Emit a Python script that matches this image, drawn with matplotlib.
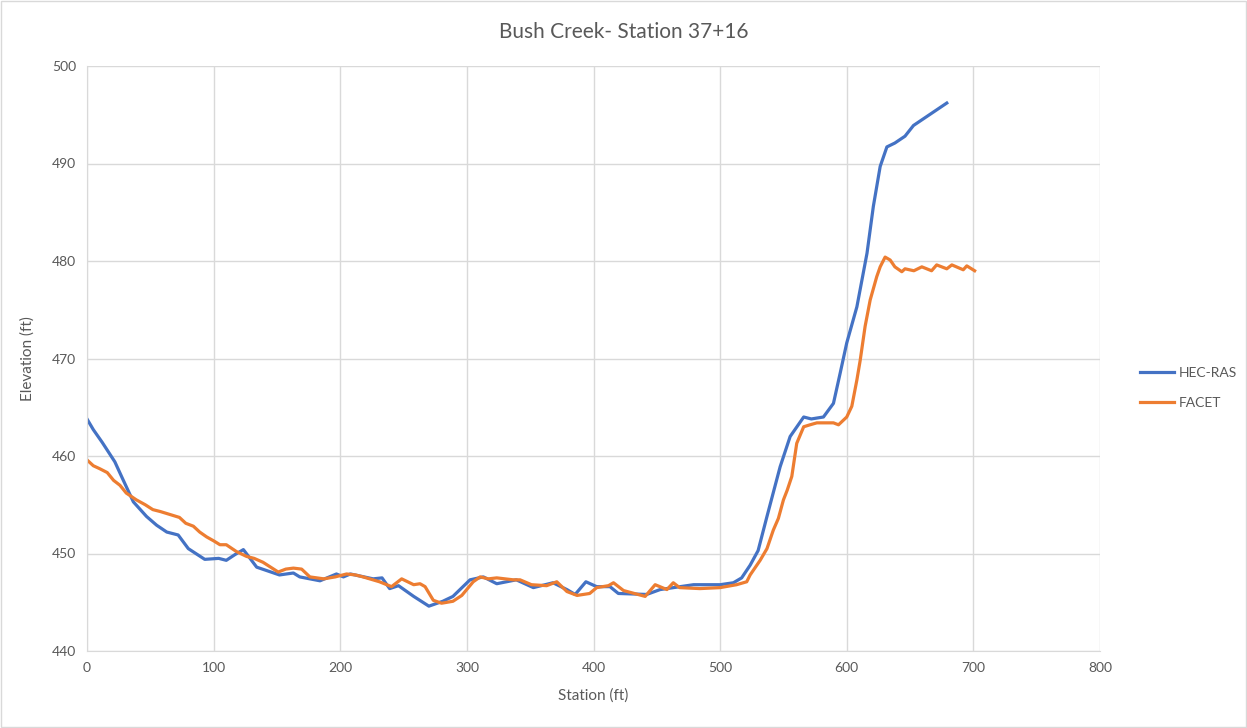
import matplotlib.pyplot as plt
import numpy as np

plt.rcParams['font.family'] = ['Lato', 'DejaVu Sans']

# HEC-RAS cross section
hec_station = [0, 5, 12, 22, 28, 36.6, 47, 55, 63, 72, 80, 93, 104, 110, 117, 123.5, 134,
               152, 163, 168, 184, 197, 202.5, 208, 226, 233, 239, 246, 258, 270, 281, 289,
               302.5, 313, 323.6, 339, 352.5, 368, 379, 385.5, 394, 402.5, 413, 419.6, 442,
               452.6, 479, 500, 510.5, 517, 523.7, 530, 537, 547.4, 555.3, 566, 572, 581.6,
               589.5, 594.8, 600, 608, 616, 621, 626.4, 631.7, 638, 646, 652.7, 663, 679]
hec_elev = [463.8, 462.7, 461.4, 459.4, 457.7, 455.3, 453.8, 452.9, 452.2, 451.9, 450.5, 449.4,
            449.5, 449.3, 449.9, 450.4, 448.6, 447.8, 448.0, 447.6, 447.2, 447.9, 447.6, 447.9,
            447.4, 447.5, 446.4, 446.7, 445.6, 444.6, 445.1, 445.6, 447.3, 447.6, 446.9, 447.3,
            446.5, 447.0, 446.3, 445.8, 447.1, 446.6, 446.6, 445.9, 445.8, 446.3, 446.8, 446.8,
            447.0, 447.5, 448.8, 450.3, 453.8, 458.9, 462.0, 464.0, 463.8, 464.0, 465.4, 468.5,
            471.6, 475.3, 480.8, 485.6, 489.7, 491.7, 492.1, 492.8, 493.9, 494.8, 496.2]

# FACET cross section
facet_station = [0, 5, 10, 16, 21, 26, 31, 39, 46, 52, 58, 63, 68, 73, 78, 84, 89, 94.5, 100,
                 105, 110, 118, 126, 132, 139, 145, 151, 157, 163, 169.5, 176, 187, 196, 205,
                 212, 218, 231, 240.5, 248.5, 258, 263, 267, 273.5, 280, 289, 296, 305, 310.5,
                 317, 323.6, 336.7, 342, 351, 363, 371, 379, 387, 397, 402.5, 411.8, 415.8,
                 423.7, 440.8, 448.7, 458, 463, 468, 484, 500, 513, 521, 523.7, 531.6, 537,
                 542, 546, 550, 553, 556.6, 560.5, 566, 571, 576.4, 589.5, 593.5, 600, 604,
                 608, 610.6, 614.5, 618.5, 623.7, 626.4, 630.3, 634.3, 638, 643.5, 646, 653,
                 659.3, 667, 671, 679, 683, 692, 694.8, 701]
facet_elev = [459.6, 459.0, 458.7, 458.3, 457.5, 457.0, 456.2, 455.5, 455.0, 454.5, 454.3,
              454.1, 453.9, 453.7, 453.1, 452.8, 452.2, 451.7, 451.3, 450.9, 450.9, 450.2,
              449.7, 449.5, 449.1, 448.6, 448.1, 448.4, 448.5, 448.4, 447.6, 447.4, 447.6,
              447.9, 447.8, 447.6, 447.1, 446.6, 447.4, 446.8, 446.9, 446.6, 445.2, 444.9,
              445.1, 445.7, 447.1, 447.6, 447.4, 447.5, 447.3, 447.3, 446.8, 446.7, 447.1,
              446.1, 445.7, 445.9, 446.5, 446.7, 447.0, 446.2, 445.6, 446.8, 446.3, 447.0,
              446.5, 446.4, 446.5, 446.8, 447.1, 447.8, 449.3, 450.5, 452.4, 453.6, 455.5,
              456.5, 457.9, 461.3, 463.0, 463.2, 463.4, 463.4, 463.2, 464.0, 465.1, 467.8,
              469.8, 473.3, 476.0, 478.4, 479.4, 480.4, 480.1, 479.4, 478.9, 479.2, 479.0,
              479.4, 479.0, 479.6, 479.2, 479.6, 479.1, 479.5, 479.0]

xticks = np.arange(0, 801, 100)
yticks = np.arange(440, 501, 10)

txt = '#595959'
grid = '#d9d9d9'

fig = plt.figure(figsize=(12.47, 7.28), dpi=100)
ax = fig.add_axes([87 / 1247, 1 - 651 / 728, (1100 - 87) / 1247, (651 - 66) / 728])

ax.plot(hec_station, hec_elev, color='#4472C4', lw=2.3, label='HEC-RAS', solid_joinstyle='round')
ax.plot(facet_station, facet_elev, color='#ED7D31', lw=2.3, label='FACET', solid_joinstyle='round')

ax.set_xlim(0, 800)
ax.set_ylim(440, 500)
ax.set_xticks(xticks)
ax.set_yticks(yticks)
ax.grid(True, color=grid, lw=1)
ax.set_axisbelow(True)
for s in ['top', 'right']:
    ax.spines[s].set_visible(False)
for s in ['left', 'bottom']:
    ax.spines[s].set_color(grid)
ax.tick_params(length=0, colors=txt, labelsize=10, pad=8)

ax.set_xlabel('Station (ft)', color=txt, fontsize=11, labelpad=10)
ax.set_ylabel('Elevation (ft)', color=txt, fontsize=11, labelpad=12)
fig.suptitle('Bush Creek- Station 37+16', color=txt, fontsize=15, y=1 - 32 / 728, va='center')

fig.legend(loc='center left', bbox_to_anchor=(1127 / 1247, 1 - 388 / 728), frameon=False,
           fontsize=10, labelcolor=txt, handlelength=2.5, handletextpad=0.3, labelspacing=1.3)

fig.patches.append(plt.Rectangle((0.0005, 0.001), 0.999, 0.998, transform=fig.transFigure,
                                 fill=False, edgecolor='#d9d9d9', lw=1))

fig.savefig('out.png', dpi=100)
